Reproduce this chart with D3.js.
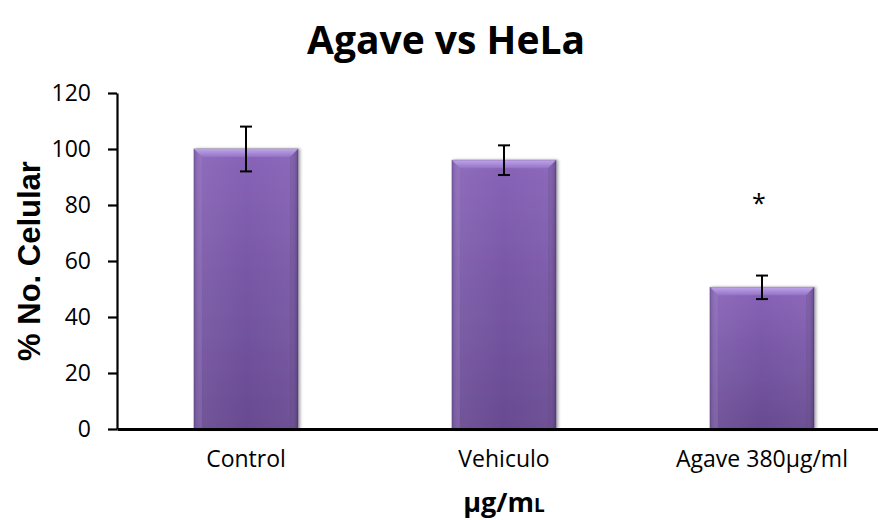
<!DOCTYPE html>
<html>
<head>
<meta charset="utf-8">
<script src="https://cdn.jsdelivr.net/npm/d3@7"></script>
<style>
  html, body { margin: 0; padding: 0; background: #fff; }
  svg { display: block; }
</style>
</head>
<body>
<svg id="chart" width="878" height="520"></svg>
<script>
// ---- data ----
const categories = ["Control", "Vehiculo", "Agave 380µg/ml"];
const values = [100, 96, 50.6];
const errors = [8, 5.3, 4.2];
const significant = [false, false, true];
const yTicks = [0, 20, 40, 60, 80, 100, 120];
const titleText = "Agave vs HeLa";
const yTitle = "% No. Celular";
const xTitle = "µg/mL";

// ---- layout ----
const svg = d3.select("#chart");
const plot = { left: 117, right: 891, top: 93, bottom: 429 };

const x = d3.scaleBand()
  .domain(categories)
  .range([plot.left, plot.right])
  .paddingInner(0.597)
  .paddingOuter(0.2985);

const y = d3.scaleLinear().domain([0, 120]).range([plot.bottom, plot.top]);

// ---- gradients ----
const defs = svg.append("defs");
const gMain = defs.append("linearGradient").attr("id", "gMain")
  .attr("x1", 0).attr("y1", 0).attr("x2", 0).attr("y2", 1);
gMain.append("stop").attr("offset", "0%").attr("stop-color", "#8863b8");
gMain.append("stop").attr("offset", "45%").attr("stop-color", "#7857a6");
gMain.append("stop").attr("offset", "100%").attr("stop-color", "#684a91");

const gSide = defs.append("linearGradient").attr("id", "gSide")
  .attr("x1", 0).attr("y1", 0).attr("x2", 1).attr("y2", 0);
gSide.append("stop").attr("offset", "0%").attr("stop-color", "#3e2a5e").attr("stop-opacity", 0.35);
gSide.append("stop").attr("offset", "8%").attr("stop-color", "#ffffff").attr("stop-opacity", 0.06);
gSide.append("stop").attr("offset", "50%").attr("stop-color", "#ffffff").attr("stop-opacity", 0.0);
gSide.append("stop").attr("offset", "92%").attr("stop-color", "#ffffff").attr("stop-opacity", 0.04);
gSide.append("stop").attr("offset", "100%").attr("stop-color", "#3e2a5e").attr("stop-opacity", 0.35);

const gTop = defs.append("linearGradient").attr("id", "gTop")
  .attr("x1", 0).attr("y1", 0).attr("x2", 0).attr("y2", 1);
gTop.append("stop").attr("offset", "0%").attr("stop-color", "#c4aaee");
gTop.append("stop").attr("offset", "100%").attr("stop-color", "#9574c8");

const shadow = defs.append("filter").attr("id", "shadow")
  .attr("x", "-10%").attr("y", "-10%").attr("width", "130%").attr("height", "120%");
shadow.append("feDropShadow").attr("dx", 2).attr("dy", 0).attr("stdDeviation", 1.5)
  .attr("flood-color", "#000").attr("flood-opacity", 0.35);

// ---- bars ----
const bevel = 8;
const rows = categories.map((c, i) => ({ c, v: values[i], e: errors[i], s: significant[i] }));
const bars = svg.append("g").selectAll("g.bar")
  .data(rows)
  .join("g").attr("class", "bar");

bars.append("rect")
  .attr("x", d => x(d.c)).attr("y", d => y(d.v))
  .attr("width", x.bandwidth()).attr("height", d => y(0) - y(d.v))
  .attr("fill", "url(#gMain)")
  .attr("stroke", "#4f3873").attr("stroke-width", 0.8).attr("stroke-opacity", 0.7)
  .attr("filter", "url(#shadow)");

bars.append("rect")
  .attr("x", d => x(d.c)).attr("y", d => y(d.v))
  .attr("width", x.bandwidth()).attr("height", d => y(0) - y(d.v))
  .attr("fill", "url(#gSide)");

// top bevel
bars.append("path")
  .attr("d", d => {
    const x0 = x(d.c), x1 = x0 + x.bandwidth(), t = y(d.v);
    return `M${x0},${t}L${x1},${t}L${x1 - bevel},${t + bevel}L${x0 + bevel},${t + bevel}Z`;
  })
  .attr("fill", "url(#gTop)").attr("opacity", 0.9);

// side bevels (subtle)
bars.append("path")
  .attr("d", d => {
    const x0 = x(d.c), t = y(d.v), b = y(0);
    return `M${x0},${t}L${x0 + bevel},${t + bevel}L${x0 + bevel},${b}L${x0},${b}Z`;
  })
  .attr("fill", "#9a7cc9").attr("opacity", 0.25);
bars.append("path")
  .attr("d", d => {
    const x1 = x(d.c) + x.bandwidth(), t = y(d.v), b = y(0);
    return `M${x1},${t}L${x1 - bevel},${t + bevel}L${x1 - bevel},${b}L${x1},${b}Z`;
  })
  .attr("fill", "#4a3470").attr("opacity", 0.2);

// error bars
const cap = 6;
const eb = svg.append("g").attr("stroke", "#000").attr("stroke-width", 2);
rows.forEach(d => {
  const cx = x(d.c) + x.bandwidth() / 2;
  eb.append("line").attr("x1", cx).attr("x2", cx).attr("y1", y(d.v + d.e)).attr("y2", y(d.v - d.e));
  eb.append("line").attr("x1", cx - cap).attr("x2", cx + cap).attr("y1", y(d.v + d.e)).attr("y2", y(d.v + d.e));
  eb.append("line").attr("x1", cx - cap).attr("x2", cx + cap).attr("y1", y(d.v - d.e)).attr("y2", y(d.v - d.e));
});

// significance marker
svg.append("g").selectAll("text")
  .data(rows.filter(d => d.s))
  .join("text")
  .attr("x", d => x(d.c) + x.bandwidth() / 2 - 3)
  .attr("y", y(77.5))
  .attr("text-anchor", "middle")
  .attr("font-family", "'Open Sans', sans-serif")
  .attr("font-size", 25)
  .attr("fill", "#000")
  .text("*");

// ---- axes ----
const yAxis = svg.append("g")
  .attr("transform", `translate(${plot.left},0)`)
  .call(d3.axisLeft(y).tickValues(yTicks).tickSize(9).tickSizeOuter(0).tickPadding(17).tickFormat(d3.format("d")));
yAxis.select(".domain").attr("stroke", "#000").attr("stroke-width", 2.2);
yAxis.selectAll(".tick line").attr("stroke", "#000").attr("stroke-width", 2.2);
yAxis.selectAll(".tick text")
  .attr("font-family", "'Open Sans', sans-serif").attr("font-size", 23).attr("fill", "#000");

const xAxis = svg.append("g")
  .attr("transform", `translate(0,${plot.bottom})`)
  .call(d3.axisBottom(x).tickSize(0).tickPadding(22));
xAxis.select(".domain").attr("stroke", "#000").attr("stroke-width", 2.8);
xAxis.selectAll(".tick text")
  .attr("font-family", "'Open Sans', sans-serif").attr("font-size", 23).attr("fill", "#000");

// ---- titles ----
svg.append("text")
  .attr("x", 446).attr("y", 54)
  .attr("text-anchor", "middle")
  .attr("font-family", "'Open Sans', sans-serif").attr("font-weight", "bold").attr("font-size", 39)
  .attr("fill", "#000")
  .text(titleText);

svg.append("text")
  .attr("transform", `translate(40,${(plot.top + plot.bottom) / 2}) rotate(-90)`)
  .attr("text-anchor", "middle")
  .attr("font-family", "'Liberation Sans', Arial, sans-serif").attr("font-weight", "bold").attr("font-size", 31)
  .attr("fill", "#000")
  .text(yTitle);

const xt = svg.append("text")
  .attr("x", (plot.left + plot.right) / 2).attr("y", 512)
  .attr("text-anchor", "middle")
  .attr("font-family", "'Open Sans', sans-serif").attr("font-weight", "bold").attr("font-size", 27)
  .attr("fill", "#000");
xt.append("tspan").text(xTitle.slice(0, -1));
xt.append("tspan").attr("font-size", 19).text(xTitle.slice(-1));
</script>
</body>
</html>
